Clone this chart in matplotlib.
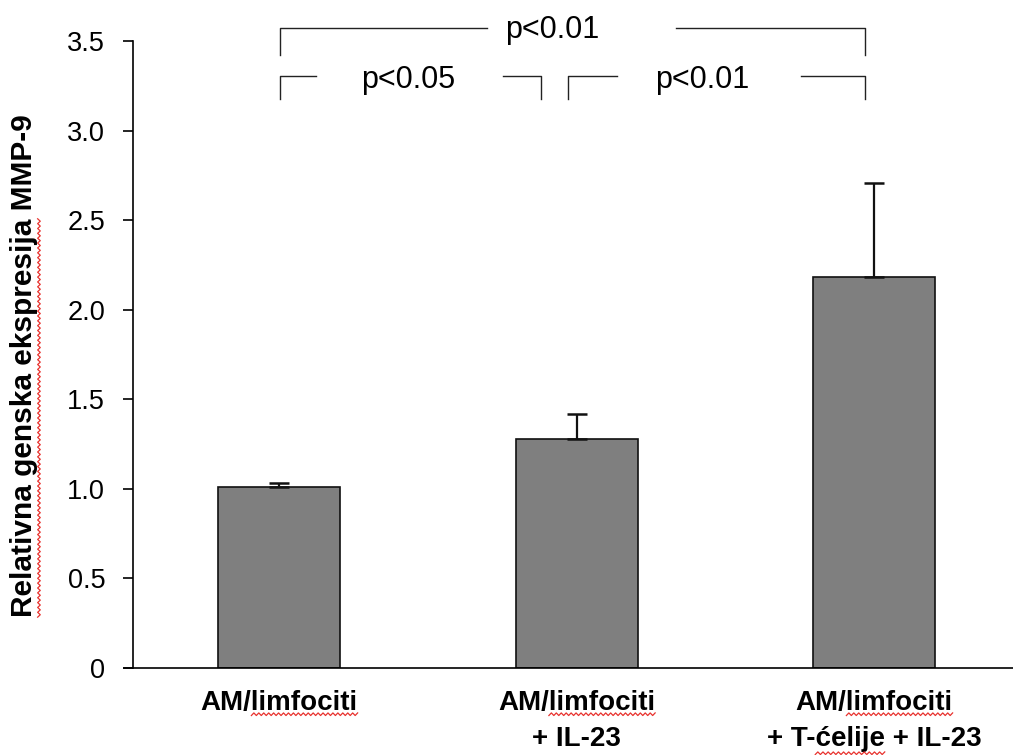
import numpy as np
import matplotlib
matplotlib.use("Agg")
import matplotlib.pyplot as plt
from matplotlib.lines import Line2D
from matplotlib.transforms import IdentityTransform

# data
groups = ["AM/limfociti", "AM/limfociti\n+ IL-23", "AM/limfociti\n+ T-ćelije + IL-23"]
means = [1.01, 1.28, 2.18]
errs = [0.02, 0.14, 0.53]
y_ticks = [0, 0.5, 1.0, 1.5, 2.0, 2.5, 3.0, 3.5]
y_tick_labels = ["0", "0.5", "1.0", "1.5", "2.0", "2.5", "3.0", "3.5"]
ylabel = "Relativna genska ekspresija MMP-9"

# significance brackets: (from group, to group, label)
brackets_top = [(0, 2, "p<0.01")]
brackets_low = [(0, 1, "p<0.05"), (1, 2, "p<0.01")]

plt.rcParams["font.family"] = ["Liberation Sans", "DejaVu Sans"]
LSPACE = 1.5

fig = plt.figure(figsize=(10.13, 7.55), dpi=100)
ax = fig.add_axes([133 / 1013, 87 / 755, 880 / 1013, 627 / 755])

x = np.arange(len(groups))
ax.bar(x, means, width=0.41, color="#7f7f7f", edgecolor="#111111", linewidth=1.2, zorder=2)
ax.errorbar(x, means, yerr=[np.zeros(len(errs)), errs], fmt="none", ecolor="#111111",
            elinewidth=1.6, capsize=7.5, capthick=1.8, zorder=3)

ax.set_xlim(-0.491, 2.467)
ax.set_ylim(0, 3.5)
ax.set_yticks(y_ticks)
ax.set_yticklabels(y_tick_labels, fontsize=19.5)
ax.set_xticks(x)
ax.set_xticklabels(groups, fontsize=20, fontweight="bold", linespacing=LSPACE)
ax.tick_params(axis="x", length=0, pad=16)
ax.tick_params(axis="y", length=7, width=1.2, pad=13, direction="out")
for s in ["top", "right"]:
    ax.spines[s].set_visible(False)
ax.spines["left"].set_linewidth(1.2)
ax.spines["bottom"].set_linewidth(1.2)
ax.spines["bottom"].set_bounds(-0.52, 2.467)

ax.set_ylabel(ylabel, fontsize=21.5, fontweight="bold")
ax.yaxis.set_label_coords(-0.108, 0.482)

lc = "#222222"
lw = 1.0


def bracket(i, j, label, y, drop, gaps, tx, ty, lpad=0.0, rpad=0.0):
    xa, xb = i + lpad, j + rpad
    g0, g1 = gaps
    ax.plot([xa, xa, g0], [y - drop, y, y], color=lc, lw=lw, clip_on=False)
    ax.plot([g1, xb, xb], [y, y, y - drop], color=lc, lw=lw, clip_on=False)
    ax.text(tx, ty, label, ha="center", va="baseline", fontsize=22, clip_on=False)


# top bracket
i, j, lab = brackets_top[0]
bracket(i, j, lab, 3.573, 0.151, (0.698, 1.334), 0.918, 3.517, lpad=0.003, rpad=-0.03)
# lower brackets
i, j, lab = brackets_low[0]
bracket(i, j, lab, 3.305, 0.13, (0.124, 0.753), 0.434, 3.235, lpad=0.003, rpad=-0.12)
i, j, lab = brackets_low[1]
bracket(i, j, lab, 3.305, 0.13, (1.136, 1.755), 1.422, 3.235, lpad=-0.03, rpad=-0.03)

# red spell-check squiggles like in the source document
fig.canvas.draw()
r = fig.canvas.get_renderer()


def zig(p0, p1, c, vertical=False):
    n = max(int(abs(p1 - p0) / 2.4), 2)
    t = np.linspace(p0, p1, n)
    off = c + np.where(np.arange(n) % 2 == 0, -1.3, 1.3)
    if vertical:
        xs, ys = off, t
    else:
        xs, ys = t, off
    fig.add_artist(Line2D(xs, ys, transform=IdentityTransform(), color="#e8322e", lw=0.9))


def width(s, t):
    w, h, d = r.get_text_width_height_descent(s, t.get_fontproperties(), ismath=False)
    return w


for t in ax.get_xticklabels():
    bb = t.get_window_extent(r)
    cx = (bb.x0 + bb.x1) / 2
    lines = t.get_text().split("\n")
    _, hl, dl = r.get_text_width_height_descent("lp", t.get_fontproperties(), ismath=False)
    step = hl * LSPACE
    for k, line in enumerate(lines):
        wl = width(line, t)
        left = cx - wl / 2
        y0 = bb.y1 - step * k - (hl - dl) - 4
        for word in ["limfociti", "ćelije"]:
            if word in line:
                pre = line[: line.index(word)]
                a = left + width(pre, t)
                zig(a, a + width(word, t), y0)

yl = ax.yaxis.get_label()
bb = yl.get_window_extent(r)
wfull = width(ylabel, yl)
start = (bb.y0 + bb.y1) / 2 - wfull / 2
zig(start, start + width("Relativna genska ekspresija", yl), bb.x1 + 1, vertical=True)

fig.savefig("out.png", dpi=100)
